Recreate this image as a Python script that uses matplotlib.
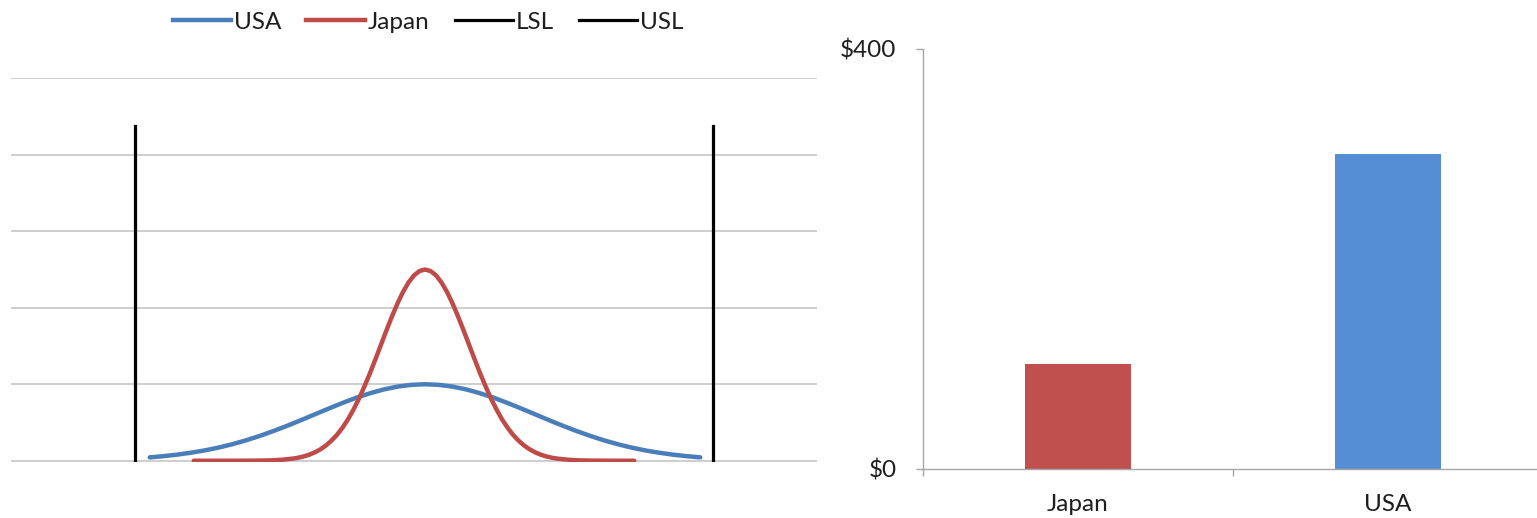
import matplotlib
matplotlib.use('Agg')
import matplotlib.pyplot as plt
from matplotlib.lines import Line2D
from matplotlib.ticker import FixedLocator, FuncFormatter

plt.rcParams['font.family'] = ['Lato', 'DejaVu Sans']

# process distributions, x in units of the USA standard deviation
usa_x = [-2.5, -2.375, -2.25, -2.125, -2.0, -1.875, -1.75, -1.625, -1.5, -1.375,
         -1.25, -1.125, -1.0, -0.875, -0.75, -0.625, -0.5, -0.375, -0.25, -0.125,
         0.0, 0.125, 0.25, 0.375, 0.5, 0.625, 0.75, 0.875, 1.0, 1.125,
         1.25, 1.375, 1.5, 1.625, 1.75, 1.875, 2.0, 2.125, 2.25, 2.375, 2.5]
usa_y = [0.044, 0.060, 0.080, 0.105, 0.135, 0.172, 0.216, 0.267, 0.325, 0.389,
         0.458, 0.531, 0.607, 0.682, 0.755, 0.823, 0.882, 0.932, 0.969, 0.992,
         1.000, 0.992, 0.969, 0.932, 0.882, 0.823, 0.755, 0.682, 0.607, 0.531,
         0.458, 0.389, 0.325, 0.267, 0.216, 0.172, 0.135, 0.105, 0.080, 0.060, 0.044]

japan_x = [-2.1, -2.0, -1.9, -1.8, -1.7, -1.6, -1.5, -1.4, -1.3, -1.2,
           -1.15, -1.1, -1.05, -1.0, -0.95, -0.9, -0.85, -0.8, -0.75, -0.7,
           -0.65, -0.6, -0.55, -0.5, -0.45, -0.4, -0.35, -0.3, -0.25, -0.2,
           -0.15, -0.1, -0.05, 0.0, 0.05, 0.1, 0.15, 0.2, 0.25, 0.3,
           0.35, 0.4, 0.45, 0.5, 0.55, 0.6, 0.65, 0.7, 0.75, 0.8,
           0.85, 0.9, 0.95, 1.0, 1.05, 1.1, 1.15, 1.2, 1.3, 1.4,
           1.5, 1.6, 1.7, 1.8, 1.9]
japan_y = [0.0, 0.0, 0.0, 0.0, 0.0, 0.001, 0.002, 0.005, 0.013, 0.028,
           0.040, 0.057, 0.080, 0.110, 0.149, 0.199, 0.262, 0.338, 0.431, 0.540,
           0.668, 0.811, 0.972, 1.144, 1.328, 1.516, 1.705, 1.887, 2.056, 2.206,
           2.330, 2.423, 2.480, 2.500, 2.480, 2.423, 2.330, 2.206, 2.056, 1.887,
           1.705, 1.516, 1.328, 1.144, 0.972, 0.811, 0.668, 0.540, 0.431, 0.338,
           0.262, 0.199, 0.149, 0.110, 0.080, 0.057, 0.040, 0.028, 0.013, 0.005,
           0.002, 0.001, 0.0, 0.0, 0.0]

# specification limits
lsl_x = [-2.63, -2.63]
lsl_y = [0.0, 4.38]
usl_x = [2.62, 2.62]
usl_y = [0.0, 4.38]

# cost of poor quality by country
countries = ['Japan', 'USA']
cost = [100, 300]

W, H = 1537, 518
fig = plt.figure(figsize=(W / 100, H / 100), dpi=100)

c_usa = '#4A7EBB'
c_jpn = '#BE4B48'
txt = '#1E1E1E'
fs = 17.5

# left: distributions against spec limits
ax1 = fig.add_axes([11 / W, 56.5 / H, 806 / W, 384 / H])
ax1.set_xlim(-3.76, 3.56)
ax1.set_ylim(-0.01, 5.01)
ax1.set_yticks([0, 1, 2, 3, 4, 5])
ax1.set_xticks([])
ax1.tick_params(axis='y', length=0, labelleft=False)
ax1.grid(axis='y', color='#C6C6C6', lw=1.2)
ax1.set_axisbelow(True)
for s in ax1.spines.values():
    s.set_visible(False)

ax1.plot(usa_x, usa_y, color=c_usa, lw=3.2, solid_capstyle='round', zorder=3)
ax1.plot(japan_x, japan_y, color=c_jpn, lw=3.2, solid_capstyle='round', zorder=3)
ax1.plot(lsl_x, lsl_y, color='black', lw=2.3, zorder=4)
ax1.plot(usl_x, usl_y, color='black', lw=2.3, zorder=4)

handles = [Line2D([], [], color=c_usa, lw=3.2),
           Line2D([], [], color=c_jpn, lw=3.2),
           Line2D([], [], color='black', lw=2.3),
           Line2D([], [], color='black', lw=2.3)]
leg = fig.legend(handles, ['USA', 'Japan', 'LSL', 'USL'], loc='upper center',
                 bbox_to_anchor=(428 / W, 1.02), ncol=4, frameon=False, fontsize=fs,
                 handlelength=2.4, handletextpad=0.1, columnspacing=1.05)
for t in leg.get_texts():
    t.set_color(txt)

# right: cost bars
ax2 = fig.add_axes([923 / W, 49 / H, 620 / W, 420 / H])
ax2.bar([0, 1], cost, width=0.345, color=['#C0504D', '#558ED5'], zorder=2)
ax2.set_xlim(-0.5, 1.5)
ax2.set_ylim(0, 400)
ax2.set_yticks([0, 400])
ax2.yaxis.set_major_formatter(FuncFormatter(lambda v, p: f'${v:.0f}'))
ax2.tick_params(axis='y', direction='out', length=5, width=1, color='#A6A6A6',
                labelsize=fs, labelcolor=txt, pad=14)
ax2.xaxis.set_major_locator(FixedLocator([-0.5, 0.5, 1.5]))
ax2.xaxis.set_minor_locator(FixedLocator([0, 1]))
ax2.set_xticklabels([], minor=False)
ax2.set_xticklabels(countries, minor=True)
ax2.tick_params(axis='x', which='major', direction='out', length=5, width=1, color='#A6A6A6')
ax2.tick_params(axis='x', which='minor', length=0, labelsize=fs, labelcolor=txt, pad=18)
for side in ['top', 'right']:
    ax2.spines[side].set_visible(False)
for side in ['left', 'bottom']:
    ax2.spines[side].set_color('#A6A6A6')
    ax2.spines[side].set_linewidth(1)

fig.savefig('out.png', dpi=100)
